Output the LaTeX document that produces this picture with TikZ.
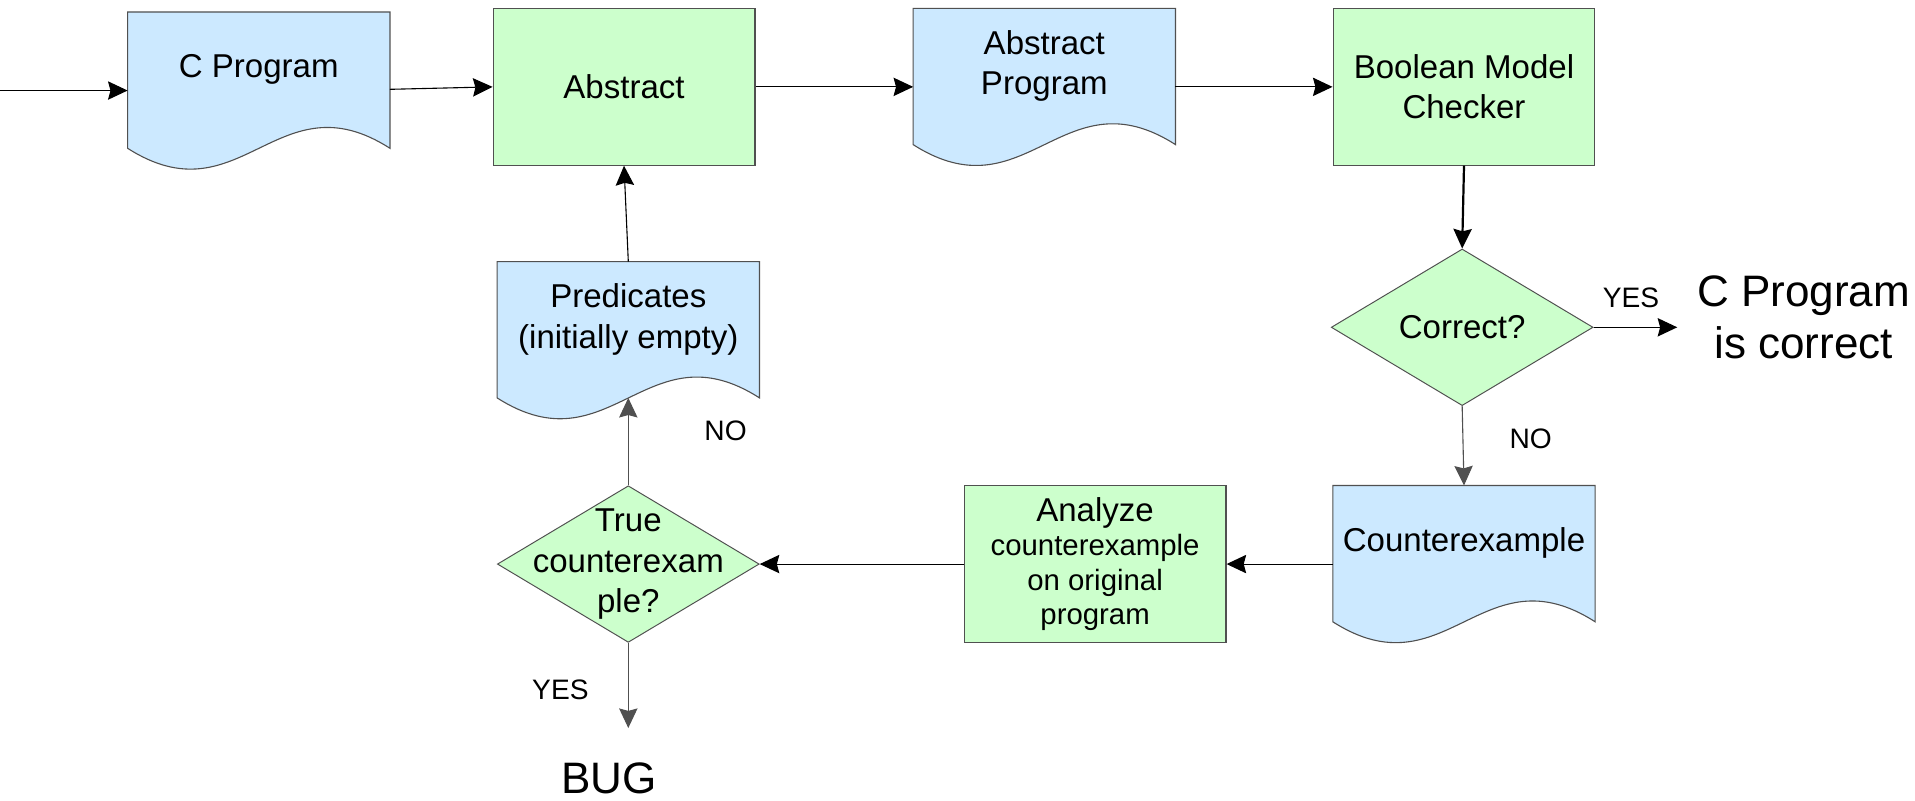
\documentclass[tikz,border=0pt]{standalone}
\usepackage{fontspec}
\setmainfont{Liberation Sans}
\usetikzlibrary{shapes.geometric,arrows.meta,calc}
\pgfdeclarelayer{background}
\pgfsetlayers{background,main}
\definecolor{docblue}{RGB}{204,233,255}
\definecolor{procgreen}{RGB}{204,255,204}
\definecolor{edgegray}{RGB}{80,80,80}
\tikzset{
 base/.style={font=\fontsize{27}{33}\selectfont, align=center, inner sep=0pt},
 procbox/.style={base, rectangle, draw=edgegray, fill=procgreen, line width=0.9pt, minimum width=214pt, minimum height=128pt},
 decision/.style={base, diamond, draw=edgegray, fill=procgreen, line width=0.8pt, minimum width=214pt, minimum height=128pt},
 docnode/.style={base, rectangle, minimum width=214pt, minimum height=94pt},
 docdraw/.style={draw=edgegray, fill=docblue, line width=0.9pt},
 tag/.style={font=\fontsize{23}{27}\selectfont, inner sep=0pt},
 result/.style={font=\fontsize{36}{43}\selectfont, align=center, inner sep=0pt},
 arr/.style={-{Stealth[length=16pt,width=15pt,inset=2pt]}, line width=0.9pt, draw=black},
}
\newcommand\docshape[1]{%
 \begin{pgfonlayer}{background}
 \draw[docdraw] (#1.north west) -- (#1.north east) -- ([yshift=-17pt]#1.south east)
 .. controls ([xshift=-92pt,yshift=42pt]#1.south east) and ([xshift=-122pt,yshift=-76pt]#1.south east)
 .. ([yshift=-17pt]#1.south west) -- cycle;
 \end{pgfonlayer}}
\begin{document}
\begin{tikzpicture}[x=1pt,y=-1pt]
\useasboundingbox (0,0) rectangle (1565.1,654.6);
% nodes
\node[docnode] (cprog) at (211.5,57) {C Program};
\docshape{cprog}
\node[procbox] (abstract) at (510,71) {Abstract};
\node[docnode] (absprog) at (853.5,54) {Abstract\\Program};
\docshape{absprog}
\node[procbox] (bmc) at (1196.5,71) {Boolean Model\\Checker};
\node[decision] (correct) at (1195,267.5) {Correct?};
\node[result, inner xsep=16pt] (okres) at (1474,259.5) {C Program\\is correct};
\node[docnode] (counterex) at (1196.5,444) {Counterexample};
\docshape{counterex}
\node[procbox, font=\fontsize{24}{28}\selectfont] (analyze) at (895,461) {{\fontsize{27}{33}\selectfont Analyze}\\counterexample\\on original\\program};
\node[decision, label={[base]center:True\\counterexam\\ple?}] (truecx) at (513.5,461) {};
\node[docnode] (pred) at (513.5,261) {Predicates\\(initially empty)};
\docshape{pred}
\node[result] (bug) at (498,636.5) {BUG};
% labels
\node[tag] (yes1) at (1333,243) {YES};
\node[tag] (no1) at (1251,359) {NO};
\node[tag] (no2) at (593,352) {NO};
\node[tag] (yes2) at (458,564) {YES};
% connectors
\coordinate (entry) at (0,74);
\coordinate (predwave) at ([yshift=-17pt]pred.south);
\coordinate (bugin) at (513.5,595);
\draw[arr] (entry) -- (entry -| cprog.west);
\draw[arr] ([yshift=-16pt]cprog.east) -- (abstract.west);
\draw[arr] (abstract.east) -- (abstract.east -| absprog.west);
\draw[arr] (absprog.east |- bmc.west) -- (bmc.west);
\draw[arr, line width=1.8pt] (bmc.south) -- (correct.north);
\draw[arr] (correct.east) -- (correct.east -| okres.west);
\draw[arr, draw=edgegray] (correct.south) -- (counterex.north);
\draw[arr] (analyze.east -| counterex.west) -- (analyze.east);
\draw[arr] (analyze.west) -- (truecx.east);
\draw[arr, draw=edgegray] (truecx.north) -- (predwave);
\draw[arr] (pred.north) -- (abstract.south);
\draw[arr, draw=edgegray] (truecx.south) -- (bugin);
\end{tikzpicture}
\end{document}
